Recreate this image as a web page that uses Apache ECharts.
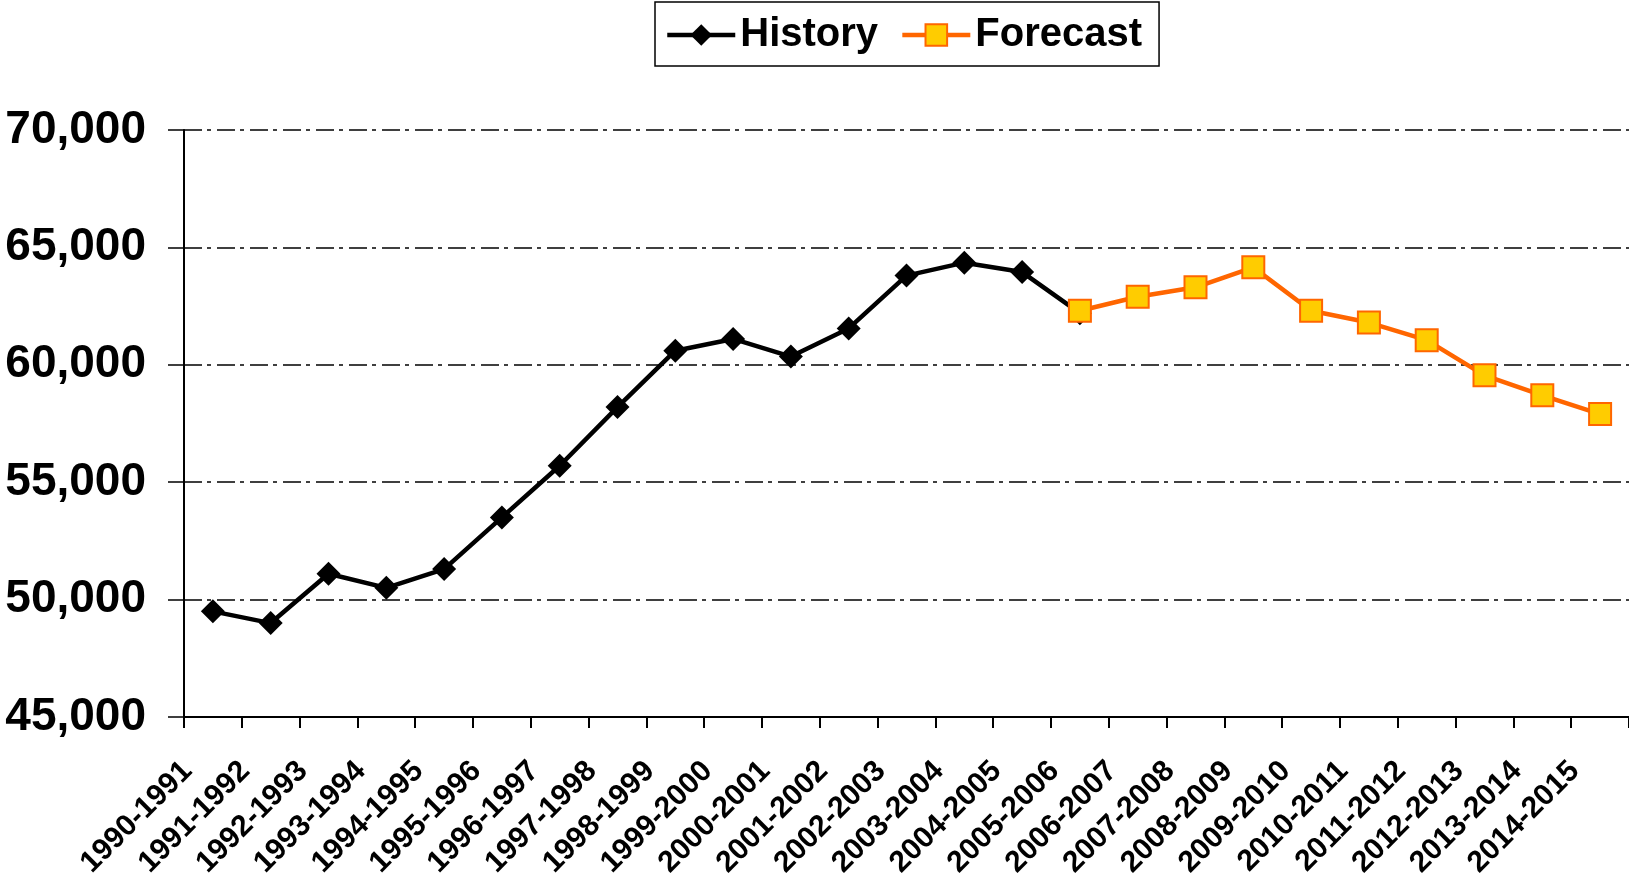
<!DOCTYPE html>
<html>
<head>
<meta charset="utf-8">
<script src="https://cdn.jsdelivr.net/npm/echarts@6/dist/echarts.min.js"></script>
<style>
  html, body { margin: 0; padding: 0; background: #fff; }
  #chart { width: 1629px; height: 877px; }
</style>
</head>
<body>
<div id="chart"></div>
<script>
const categories = ["1990-1991","1991-1992","1992-1993","1993-1994","1994-1995","1995-1996","1996-1997",
  "1997-1998","1998-1999","1999-2000","2000-2001","2001-2002","2002-2003","2003-2004","2004-2005",
  "2005-2006","2006-2007","2007-2008","2008-2009","2009-2010","2010-2011","2011-2012","2012-2013",
  "2013-2014","2014-2015"]
const history = [49500, 49000, 51100, 50500, 51300, 53500, 55700, 58200, 60600, 61100, 60350, 61550,
  63800, 64350, 63950, 62200, null, null, null, null, null, null, null, null, null]
const forecast = [null, null, null, null, null, null, null, null, null, null, null, null, null, null, null,
  62300, 62900, 63300, 64150, 62300, 61800, 61050, 59550, 58700, 57900]
const yTicks = [45000, 70000, 5000] // min, max, step

const font = "'Liberation Sans', Arial, sans-serif"

var myChart = echarts.init(document.getElementById("chart"))
let option = {
  animation: false,
  textStyle: { fontFamily: font },
  legend: {
    left: 655,
    top: 2,
    padding: [13, 17, 11, 10],
    itemWidth: 68,
    itemHeight: 27,
    itemGap: 22,
    borderColor: '#000',
    borderWidth: 1.5,
    lineStyle: { width: 4.5 },
    textStyle: { fontSize: 40, fontWeight: 'bold', color: '#000', fontFamily: font },
    data: ['History', 'Forecast']
  },
  grid: {
    left: 184,
    right: 0,
    top: 130,
    bottom: 160,
    outerBoundsMode: 'none'
  },
  xAxis: {
    type: 'category',
    boundaryGap: true,
    data: categories,
    axisLine: { lineStyle: { color: '#000', width: 2 } },
    axisTick: { show: true, length: 11, lineStyle: { color: '#000', width: 2 } },
    axisLabel: {
      interval: 0,
      rotate: 45,
      margin: 24,
      padding: [0, 36, 0, 0],
      color: '#000',
      fontSize: 30,
      fontWeight: 'bold',
      fontFamily: font
    },
    splitLine: { show: false }
  },
  yAxis: {
    type: 'value',
    min: yTicks[0],
    max: yTicks[1],
    interval: yTicks[2],
    axisLine: { show: true, lineStyle: { color: '#000', width: 2 } },
    axisTick: { show: true, length: 16, lineStyle: { color: '#000', width: 1.5 } },
    axisLabel: {
      margin: 38,
      color: '#000',
      fontSize: 46,
      fontWeight: 'bold',
      fontFamily: font,
      formatter: function (v) { return v.toLocaleString('en-US') }
    },
    splitLine: { show: true, lineStyle: { color: '#000', width: 1.5, type: [18, 5, 4, 6] } }
  },
  series: [
    {
      name: 'History',
      type: 'line',
      data: history,
      symbol: 'diamond',
      symbolSize: 24,
      color: '#000',
      lineStyle: { color: '#000', width: 4.5 },
      itemStyle: { color: '#000' }
    },
    {
      name: 'Forecast',
      type: 'line',
      data: forecast,
      symbol: 'rect',
      symbolSize: 22,
      color: '#FFCC00',
      lineStyle: { color: '#FF6600', width: 4.5 },
      itemStyle: { color: '#FFCC00', borderColor: '#FF6600', borderWidth: 2 }
    }
  ]
}
myChart.setOption(option)
</script>
</body>
</html>
